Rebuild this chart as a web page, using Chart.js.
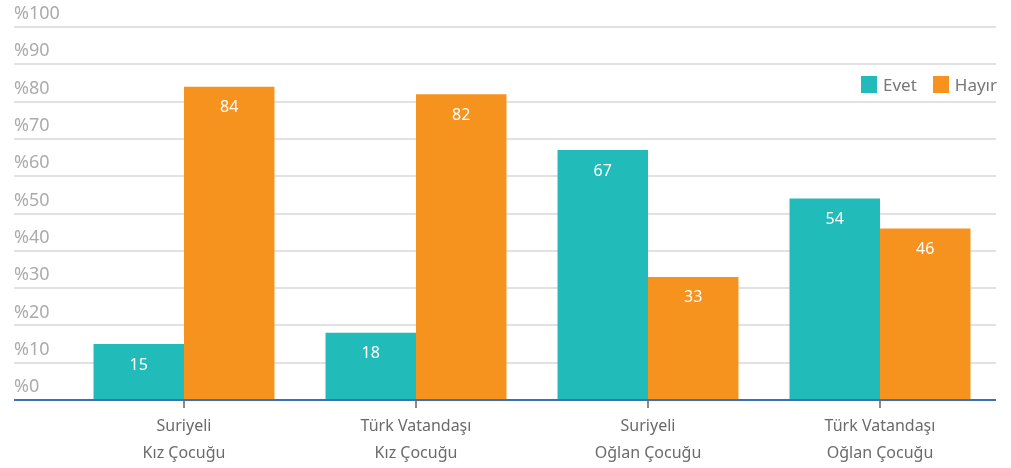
<!DOCTYPE html>
<html>
<head>
    <meta charset="UTF-8">
    <title>Evet / Hayır</title>
    <script src="https://cdn.jsdelivr.net/npm/chart.js@4"></script>
    <style type="text/css">
        body { margin: 0; background: #fff; font-family: "Noto Sans", sans-serif; }
        #wrap { position: relative; width: 1011px; height: 468px; }
        #legend { position: absolute; right: 14px; top: 73px; display: flex; align-items: center; color: #777; font-size: 17px; }
        #legend .item { display: flex; align-items: center; margin-left: 16px; }
        #legend .box { width: 16px; height: 17px; margin-right: 6px; }
    </style>
</head>
<body>

<div id="wrap">
    <canvas id="myChart" width="1011" height="468"></canvas>
    <div id="legend"></div>
</div>

<script>
    const categories = [
        ['Suriyeli', 'Kız Çocuğu'],
        ['Türk Vatandaşı', 'Kız Çocuğu'],
        ['Suriyeli', 'Oğlan Çocuğu'],
        ['Türk Vatandaşı', 'Oğlan Çocuğu']
    ];
    const seriesNames = ['Evet', 'Hayır'];
    const evetValues = [15, 18, 67, 54];
    const hayirValues = [84, 82, 33, 46];
    const seriesColors = ['#21bcb9', '#f6921e'];

    // legend in the top right corner, over the plot
    const legend = document.getElementById('legend');
    seriesNames.forEach((name, i) => {
        const item = document.createElement('div');
        item.className = 'item';
        item.innerHTML = `<span class="box" style="background:${seriesColors[i]}"></span><span>${name}</span>`;
        legend.appendChild(item);
    });

    // white numbers near the top of every bar
    const valueLabels = {
        id: 'valueLabels',
        afterDatasetsDraw(chart) {
            const ctx = chart.ctx;
            ctx.save();
            ctx.fillStyle = '#ffffff';
            ctx.font = '16px "Noto Sans"';
            ctx.textAlign = 'center';
            ctx.textBaseline = 'middle';
            chart.data.datasets.forEach((ds, di) => {
                chart.getDatasetMeta(di).data.forEach((bar, i) => {
                    ctx.fillText(ds.data[i], bar.x, bar.y + 21);
                });
            });
            ctx.restore();
        }
    };

    const ctx = document.getElementById('myChart').getContext('2d');
    new Chart(ctx, {
        type: 'bar',
        data: {
            labels: categories,
            datasets: [
                { label: seriesNames[0], data: evetValues, backgroundColor: seriesColors[0] },
                { label: seriesNames[1], data: hayirValues, backgroundColor: seriesColors[1] }
            ]
        },
        options: {
            responsive: false,
            animation: false,
            layout: { padding: { left: 14, right: 15, top: 27, bottom: 0 } },
            datasets: { bar: { categoryPercentage: 0.78, barPercentage: 1 } },
            plugins: {
                legend: { display: false },
                tooltip: { enabled: false }
            },
            scales: {
                x: {
                    border: { display: false },
                    grid: { drawOnChartArea: false, offset: false, tickLength: 8, color: '#8a8a8a', lineWidth: 2 },
                    ticks: { color: '#6b6b6b', font: { family: 'Noto Sans', size: 16, lineHeight: 1.7 }, padding: 5 },
                    afterFit: (axis) => { axis.height = 68; }
                },
                y: {
                    min: 0,
                    max: 100,
                    border: { display: false },
                    grid: {
                        tickLength: 54,
                        lineWidth: 2,
                        color: (c) => c.tick && c.tick.value === 0 ? '#3d6fb6' : '#e1e1e1'
                    },
                    ticks: {
                        stepSize: 10,
                        crossAlign: 'far',
                        labelOffset: -13,
                        color: '#ababab',
                        font: { family: 'Noto Sans', size: 18 },
                        callback: (v) => '%' + v
                    },
                    afterFit: (axis) => { axis.width = 54; }
                }
            }
        },
        plugins: [valueLabels]
    });
</script>

</body>
</html>
